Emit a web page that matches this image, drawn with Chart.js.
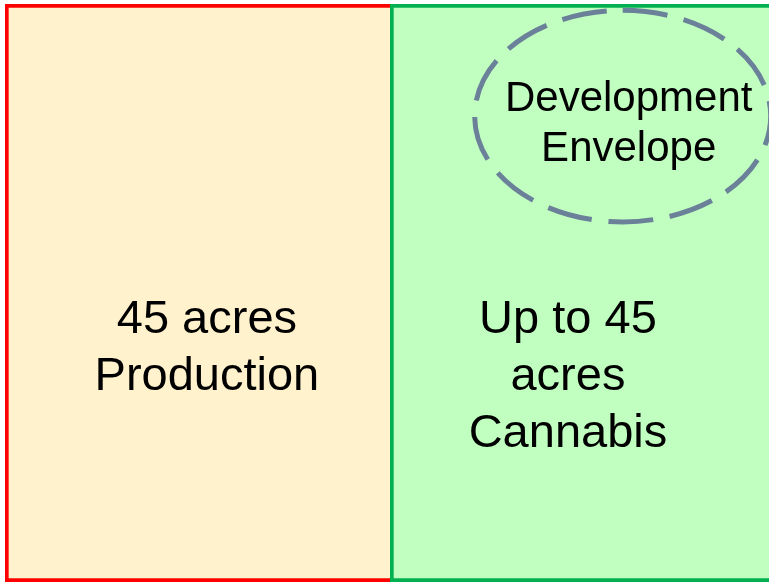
<!DOCTYPE html>
<html>
<head>
<meta charset="utf-8">
<script src="https://cdn.jsdelivr.net/npm/chart.js@4/dist/chart.umd.min.js"></script>
<style>
  html, body { margin: 0; padding: 0; background: #ffffff; }
  #wrap { width: 769px; height: 582px; position: relative; }
</style>
</head>
<body>
<div id="wrap"><canvas id="siteChart"></canvas></div>
<script>
// site split, in acres
const categories = ['Site'];
const productionAcres = [45];
const cannabisAcres = [45];

// label text for each area
const productionLines = ['45 acres', 'Production'];
const cannabisLines = ['Up to 45', 'acres', 'Cannabis'];
const envelopeLines = ['Development', 'Envelope'];

// where things sit: x in acres, y in percent of height from top
const textSpots = {
    production: { x: 23.6, y: [56.9, 66.8] },
    cannabis: { x: 65.8, y: [56.9, 66.8, 76.6] },
    envelope: { x: 72.9, y: [18.5, 27.2] }
};
const envelopeShape = { x: 72.2, y: 19.4, rx: 17.3, ry: 18.3 };

// draws the dashed envelope and all text through the scales
const diagramText = {
    id: 'diagramText',
    afterDatasetsDraw(chart) {
        const ctx = chart.ctx;
        const xs = chart.scales.x;
        const ys = chart.scales.yPct;

        ctx.save();
        // development envelope
        const cx = xs.getPixelForValue(envelopeShape.x);
        const cy = ys.getPixelForValue(envelopeShape.y);
        const rx = xs.getPixelForValue(envelopeShape.x + envelopeShape.rx) - cx;
        const ry = Math.abs(ys.getPixelForValue(envelopeShape.y + envelopeShape.ry) - cy);
        // make the dashes close up evenly round the ring
        const perim = Math.PI * (3 * (rx + ry) - Math.sqrt((3 * rx + ry) * (rx + 3 * ry)));
        const period = perim / Math.round(perim / 63);
        ctx.beginPath();
        ctx.ellipse(cx, cy, rx, ry, 0, -Math.PI / 2, Math.PI * 1.5);
        ctx.setLineDash([period * 0.73, period * 0.27]);
        ctx.lineWidth = 5;
        ctx.strokeStyle = '#6b8199';
        ctx.stroke();
        ctx.setLineDash([]);

        ctx.fillStyle = '#000000';
        ctx.textAlign = 'center';
        ctx.textBaseline = 'alphabetic';

        function writeLines(lines, spot, size) {
            ctx.font = size + "px 'Liberation Sans', Arial, sans-serif";
            lines.forEach(function (line, i) {
                ctx.fillText(line, xs.getPixelForValue(spot.x), ys.getPixelForValue(spot.y[i]));
            });
        }
        writeLines(productionLines, textSpots.production, 47);
        writeLines(cannabisLines, textSpots.cannabis, 47);
        writeLines(envelopeLines, textSpots.envelope, 42);
        ctx.restore();
    }
};

const ctx = document.getElementById('siteChart');
new Chart(ctx, {
    type: 'bar',
    data: {
        labels: categories,
        datasets: [{
            label: 'Production',
            data: productionAcres,
            backgroundColor: '#fff2cc',
            borderColor: '#ff0000',
            borderWidth: { left: 4, top: 4, right: 0, bottom: 4 },
            borderSkipped: 'right'
        }, {
            label: 'Cannabis',
            data: cannabisAcres,
            backgroundColor: '#c1ffc1',
            borderColor: '#00b050',
            borderWidth: { left: 4, top: 4, right: 4, bottom: 4 },
            borderSkipped: false
        }]
    },
    options: {
        indexAxis: 'y',
        responsive: true,
        maintainAspectRatio: false,
        animation: false,
        layout: { padding: { left: 5, top: 4, right: 0, bottom: 0 } },
        datasets: {
            bar: { categoryPercentage: 1, barPercentage: 1 }
        },
        scales: {
            x: { type: 'linear', stacked: true, min: 0, max: 89.3, display: false },
            y: { stacked: true, display: false },
            yPct: { type: 'linear', position: 'left', min: 0, max: 100, reverse: true, offset: false, display: false }
        },
        plugins: {
            legend: { display: false },
            tooltip: { enabled: false }
        }
    },
    plugins: [diagramText]
});
</script>
</body>
</html>
